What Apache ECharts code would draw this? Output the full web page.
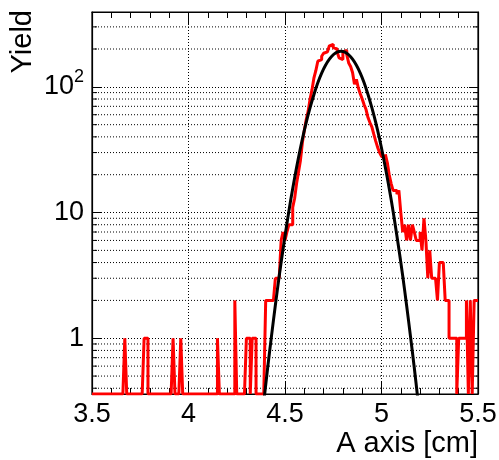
<!DOCTYPE html>
<html><head><meta charset="utf-8">
<script src="https://cdn.jsdelivr.net/npm/echarts@6/dist/echarts.min.js"></script>
<style>html,body{margin:0;padding:0;background:#fff}#c{width:499px;height:460px}</style>
</head><body><div id="c"></div>
<script>
// ---- data ----
const X_MIN = 3.5, X_MAX = 5.5, BIN_W = 0.01;
const Y_MIN = 0.36, Y_MAX = 394;
const counts = [
  0,0,0,0,0,0,0,0,0,0,
  0,0,0,0,0,0,0,1,0,0,
  0,0,0,0,0,0,0,1,1,0,
  0,0,0,0,0,0,0,0,0,0,
  0,0,1,0,0,0,1,0,0,0,
  0,0,0,0,0,0,0,0,0,0,
  0,0,0,0,0,1,0,0,0,0,
  0,0,0,0,2,0,0,0,0,0,
  1,1,0,1,1,0,0,0,0,0,
  2,2,2,2,2,3,3,3,6,7,
  6,7,8,8,11,13,17,21,26,36,
  45,55,64,80,95,118,135,160,165,175,
  185,190,195,212,218,205,200,190,170,165,
  190,195,180,155,145,130,105,115,98,88,
  80,72,66,57,52,48,42,37,33,30,
  28,27,29,25,20,17,15,15,14,15,
  10,7,8,6,8,6,8,7,6,6,
  7,5,9,6,3,5,3,3,3,2,
  4,4,4,2,2,1,1,1,1,0,
  1,1,1,1,2,0,2,0,2,2
];
const fitX = [4.39,4.41,4.43,4.45,4.47,4.49,4.51,4.53,4.55,4.57,4.59,4.61,4.63,4.65,4.67,4.69,4.71,4.73,4.75,4.77,4.79,
              4.81,4.83,4.85,4.87,4.89,4.91,4.93,4.95,4.97,4.99,5.01,5.03,5.05,5.07,5.09,5.11,5.13,5.15,5.17,5.19];
const fitY = [0.31,0.58,1.04,1.83,3.13,5.13,8.18,12.7,18.9,27.4,38.5,52.2,68.3,87.0,107.8,128.6,148.5,166.1,180,189,192,
              189,180,166.1,148.5,128.6,107.8,87.0,68.3,52.2,38.5,27.4,18.9,12.7,8.18,5.13,3.13,1.83,1.04,0.58,0.31];
const xLabels = [3.5, 4, 4.5, 5, 5.5];
const yMinor = [0.4,0.5,0.6,0.7,0.8,0.9,2,3,4,5,6,7,8,9,20,30,40,50,60,70,80,90,200,300];
const xTitle = 'A axis [cm]';
const yTitle = 'Yield';

// ---- chart ----
const FONT = 'Liberation Sans';
const histData = counts.map((c, i) => [X_MIN + i * BIN_W, c > 0 ? c : Y_MIN]);
histData.push([X_MAX, counts[counts.length - 1] > 0 ? counts[counts.length - 1] : Y_MIN]);

function yFmt(v) {
  const e = Math.round(Math.log10(v));
  if (Math.abs(v - Math.pow(10, e)) > 1e-6 * v) return '';
  if (e >= 2) return '{b|10}{s|' + e + '}';
  return '{n|' + Math.pow(10, e) + '}';
}
const xFmt = v => xLabels.some(l => Math.abs(l - v) < 1e-9) ? String(v) : '';

const dotted = { color: '#000', width: 1, type: [1, 2] };
const xAxisBase = {
  type: 'value', min: X_MIN, max: X_MAX, interval: 0.5,
  axisLine: { show: true, onZero: false, lineStyle: { color: '#000', width: 1.2 } },
  axisTick: { show: true, inside: true, length: 12, lineStyle: { color: '#000', width: 1 } },
  minorTick: { show: true, splitNumber: 5, length: 6, lineStyle: { color: '#000', width: 1 } },
  minorSplitLine: { show: false }
};
const yAxisBase = {
  type: 'log', logBase: 10, min: Y_MIN, max: Y_MAX,
  axisLine: { show: true, onZero: false, lineStyle: { color: '#000', width: 1.2 } },
  axisTick: { show: true, inside: true, length: 9, lineStyle: { color: '#000', width: 1 } }
};

const chart = echarts.init(document.getElementById('c'), null, { renderer: 'canvas' });
chart.setOption({
  animation: false,
  backgroundColor: '#fff',
  grid: { left: 92, right: 21, top: 12, bottom: 66, show: true, borderColor: '#000', borderWidth: 1.2, containLabel: false, outerBoundsMode: 'none' },
  xAxis: [
    Object.assign({}, xAxisBase, {
      position: 'bottom',
      axisLabel: { show: true, formatter: xFmt, color: '#000', fontFamily: FONT, fontSize: 27, margin: 7 },
      splitLine: { show: true, lineStyle: dotted }
    }),
    Object.assign({}, xAxisBase, {
      position: 'top',
      axisLabel: { show: false },
      splitLine: { show: false }
    })
  ],
  yAxis: [
    Object.assign({}, yAxisBase, {
      position: 'left',
      axisLabel: {
        show: true, formatter: yFmt, margin: 8, showMinLabel: false, showMaxLabel: false,
        rich: {
          n: { fontFamily: FONT, fontSize: 27, color: '#000' },
          b: { fontFamily: FONT, fontSize: 27, color: '#000', lineHeight: 37 },
          s: { fontFamily: FONT, fontSize: 18, color: '#000', lineHeight: 18, verticalAlign: 'top' }
        }
      },
      splitLine: { show: true, lineStyle: dotted }
    }),
    Object.assign({}, yAxisBase, {
      position: 'right',
      axisLabel: { show: false },
      splitLine: { show: false }
    })
  ],
  graphic: [
    { type: 'text', x: 478, y: 444, style: { text: xTitle, font: '29px "Liberation Sans"', fill: '#000', textAlign: 'right', textVerticalAlign: 'middle' } },
    { type: 'text', x: 23, y: 10, rotation: Math.PI / 2, style: { text: yTitle, font: '29px "Liberation Sans"', fill: '#000', textAlign: 'right', textVerticalAlign: 'middle' } }
  ],
  series: [
    {
      type: 'custom', coordinateSystem: 'cartesian2d', xAxisIndex: 0, yAxisIndex: 0, z: 1, silent: true,
      data: yMinor.map(v => [X_MIN, v]),
      renderItem(params, api) {
        const cs = params.coordSys;
        const y = api.coord([X_MIN, api.value(1)])[1];
        const tl = 5;
        return {
          type: 'group', children: [
            { type: 'line', shape: { x1: cs.x, y1: y, x2: cs.x + cs.width, y2: y }, style: { stroke: '#000', lineWidth: 1, lineDash: [1, 2] } },
            { type: 'line', shape: { x1: cs.x, y1: y, x2: cs.x + tl, y2: y }, style: { stroke: '#000', lineWidth: 1 } },
            { type: 'line', shape: { x1: cs.x + cs.width - tl, y1: y, x2: cs.x + cs.width, y2: y }, style: { stroke: '#000', lineWidth: 1 } }
          ]
        };
      }
    },
    {
      name: 'hist', type: 'line', step: 'end', data: histData, showSymbol: false, symbol: 'none', clip: true, z: 3,
      lineStyle: { color: '#ff0000', width: 3 }, silent: true
    },
    {
      name: 'fit', type: 'line', data: fitX.map((x, i) => [x, fitY[i]]), showSymbol: false, symbol: 'none', clip: true, z: 4,
      smooth: 0.3, lineStyle: { color: '#000', width: 3 }, silent: true
    }
  ]
});
</script></body></html>
